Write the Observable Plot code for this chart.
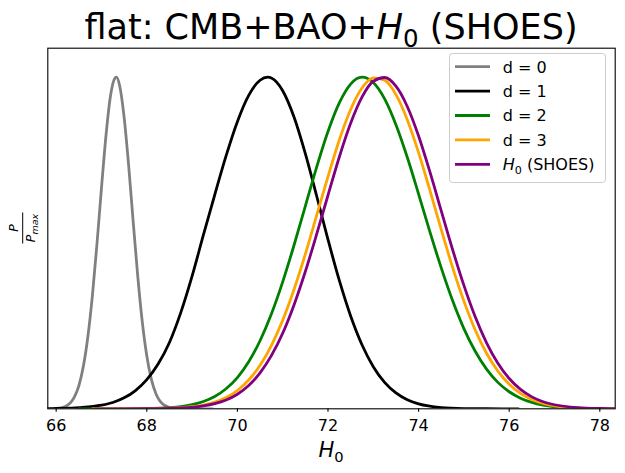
<!DOCTYPE html>
<html><head><meta charset="utf-8">
<script src="https://cdn.jsdelivr.net/npm/d3@7"></script>
<script src="https://cdn.jsdelivr.net/npm/@observablehq/plot@0.6"></script>
<style>body{margin:0;background:#fff} svg{display:block}</style>
</head><body><div id="chart"></div>
<script>
// ---- data ----
const seriesLabels = ["d = 0", "d = 1", "d = 2", "d = 3", "H0 (SHOES)"];
const seriesColors = ["gray", "black", "green", "orange", "purple"];
const xTicks = [66, 68, 70, 72, 74, 76, 78];

const d0_H0 = [65.8,66.0,66.2,66.4,66.5,66.6,66.7,66.8,66.9,67.0,67.1,67.2,67.3,67.33,67.4,67.5,67.6,67.7,67.8,67.9,68.0,68.1,68.2,68.4,68.6,68.8,69.0,69.45];
const d0_P  = [0.0001,0.001,0.0069,0.035,0.069,0.128,0.218,0.342,0.497,0.666,0.825,0.945,0.998,1.0,0.975,0.879,0.733,0.564,0.401,0.263,0.160,0.0895,0.0463,0.0098,0.0015,0.0002,0,0];

const d1_H0 = [65.8,66.0,66.5,67.0,67.25,67.5,67.75,68.0,68.25,68.5,68.75,69.0,69.25,69.5,69.75,70.0,70.25,70.5,70.67,70.75,71.0,71.25,71.5,71.75,72.0,72.25,72.5,72.75,73.0,73.25,73.5,73.75,74.0,74.5,75.0,75.5,76.2];
const d1_P  = [0,0.0009,0.0038,0.011,0.019,0.033,0.055,0.088,0.135,0.200,0.290,0.400,0.5244,0.6453,0.7627,0.8660,0.9452,0.9908,1.0,0.9976,0.9594,0.8800,0.7696,0.6418,0.5104,0.3870,0.2800,0.1932,0.1271,0.0796,0.0477,0.0272,0.0148,0.0038,0.0008,0.0001,0];

const d2_H0 = [66.5,67.0,67.5,68.0,68.5,68.75,69.0,69.25,69.5,69.75,70.0,70.25,70.5,70.75,71.0,71.25,71.5,71.75,72.0,72.25,72.5,72.75,73.0,73.25,73.5,73.75,74.0,74.25,74.5,74.75,75.0,75.25,75.5,75.75,76.0,76.25,76.5,76.75,77.0,77.5,78.0];
const d2_P  = [0,0,0.0002,0.0009,0.0036,0.0068,0.0125,0.0220,0.0371,0.0604,0.0943,0.1419,0.2052,0.2857,0.3828,0.4932,0.6114,0.7290,0.8362,0.9224,0.9792,1.0,0.9838,0.9345,0.8567,0.7585,0.6475,0.5335,0.4251,0.3266,0.2420,0.1734,0.1197,0.0797,0.0514,0.0320,0.0192,0.0111,0.0062,0.0017,0.0004];

const d3_H0 = [66.8,67.0,67.5,68.0,68.5,68.75,69.0,69.25,69.5,69.75,70.0,70.25,70.5,70.75,71.0,71.25,71.5,71.75,72.0,72.25,72.5,72.75,73.0,73.25,73.5,73.75,74.0,74.25,74.5,74.75,75.0,75.25,75.5,75.75,76.0,76.25,76.5,76.75,77.0,77.5,78.0,78.34];
const d3_P  = [0,0,0.0001,0.0004,0.0017,0.0033,0.0062,0.0114,0.0200,0.0339,0.0552,0.0867,0.1312,0.1908,0.2671,0.3598,0.4667,0.5834,0.7005,0.8106,0.9025,0.9673,0.998,0.9912,0.9476,0.8720,0.7725,0.6587,0.5405,0.4265,0.3247,0.2376,0.1674,0.1136,0.0742,0.0466,0.0282,0.0164,0.0092,0.0026,0.0006,0.0002];

const sh_H0 = [66.87,67.0,67.5,68.0,68.5,68.75,69.0,69.25,69.5,69.75,70.0,70.25,70.5,70.75,71.0,71.25,71.5,71.75,72.0,72.25,72.5,72.75,73.0,73.25,73.5,73.75,74.0,74.25,74.5,74.75,75.0,75.25,75.5,75.75,76.0,76.25,76.5,76.75,77.0,77.5,78.0,78.34];
const sh_P  = [0,0,0.00005,0.0003,0.0012,0.0024,0.0046,0.0086,0.0153,0.0264,0.0439,0.0701,0.1082,0.1602,0.2278,0.3133,0.4140,0.5265,0.6440,0.7595,0.8611,0.9400,0.9879,0.9992,0.9730,0.9118,0.8227,0.7143,0.5970,0.4804,0.3721,0.2774,0.1990,0.1374,0.0913,0.0584,0.0360,0.0214,0.0122,0.0035,0.0009,0.0003];

const allX = [d0_H0, d1_H0, d2_H0, d3_H0, sh_H0];
const allY = [d0_P, d1_P, d2_P, d3_P, sh_P];

// ---- build ----
const W = 625, H = 473, mL = 47.3, mR = 10.3, mT = 47.7, mB = 64.7;
const series = seriesLabels.map((label, i) => ({
  label, color: seriesColors[i],
  rows: allX[i].map((x, j) => ({H0: x, P: allY[i][j]}))
}));

const chart = Plot.plot({
  width: W, height: H,
  marginLeft: mL, marginRight: mR, marginTop: mT, marginBottom: mB,
  style: {fontFamily: "DejaVu Sans", fontSize: "16px", background: "white", color: "black"},
  x: {domain: [65.815, 78.34], axis: null},
  y: {domain: [0, 1.0875], axis: null},
  marks: [
    ...series.map(s => Plot.line(s.rows, {x: "H0", y: "P", stroke: s.color, strokeWidth: 2.8, curve: "monotone-x", clip: true})),
    Plot.axisX({ticks: xTicks, tickSize: 3.5, tickPadding: 7, label: null, tickFormat: d => String(d), strokeWidth: 1.1}),
    Plot.frame({stroke: "black", strokeWidth: 1.1})
  ]
});
document.getElementById("chart").appendChild(chart);

const svg = d3.select(chart);
const cx = mL + (W - mL - mR) / 2;

// math-like label helper: italic H with subscript 0
function addH0(textSel, size, shift) {
  textSel.append("tspan").attr("font-style", "italic").text("H");
  textSel.append("tspan").attr("font-size", size * 0.7).attr("dy", shift).text("0");
}

// title
const title = svg.append("text").attr("x", cx).attr("y", 39)
  .attr("text-anchor", "middle").attr("font-size", 35).attr("fill", "black");
title.append("tspan").text("flat: CMB+BAO+");
addH0(title, 35, 7.5);
title.append("tspan").attr("dy", -7.5).text(" (SHOES)");

// x label
const xl = svg.append("text").attr("x", cx).attr("y", 457)
  .attr("text-anchor", "middle").attr("font-size", 21).attr("fill", "black");
addH0(xl, 21, 4.5);

// y label: P / P_max (rotated)
const yl = svg.append("g").attr("transform", `translate(22.7,${mT + (H - mT - mB) / 2}) rotate(-90)`);
yl.append("text").attr("x", 0).attr("y", -4.5).attr("text-anchor", "middle")
  .attr("font-size", 12.5).attr("font-style", "italic").attr("fill", "black").text("P");
yl.append("line").attr("x1", -15.5).attr("x2", 15.5).attr("y1", 0).attr("y2", 0)
  .attr("stroke", "black").attr("stroke-width", 1);
const den = yl.append("text").attr("x", 0).attr("y", 12.5).attr("text-anchor", "middle")
  .attr("font-size", 12.5).attr("font-style", "italic").attr("fill", "black");
den.append("tspan").text("P");
den.append("tspan").attr("font-size", 9.5).attr("dy", 2.5).text("max");

// legend
const lg = svg.append("g").attr("text-anchor", "start");
lg.append("rect").attr("x", 449.5).attr("y", 53.5).attr("width", 156).attr("height", 129)
  .attr("rx", 3).attr("fill", "white").attr("fill-opacity", 0.8).attr("stroke", "#cccccc").attr("stroke-width", 1);
const rowY = [66.7, 91.1, 115.5, 139.9, 164.3];
series.forEach((s, i) => {
  lg.append("line").attr("x1", 455).attr("x2", 490).attr("y1", rowY[i]).attr("y2", rowY[i])
    .attr("stroke", s.color).attr("stroke-width", 2.8);
  const t = lg.append("text").attr("x", 502.7).attr("y", rowY[i] + 5.8)
    .attr("text-anchor", "start").attr("font-size", 16).attr("fill", "black");
  if (s.label.startsWith("H0")) {
    addH0(t, 16, 3.5);
    t.append("tspan").attr("dy", -3.5).text(s.label.slice(2));
  } else {
    t.text(s.label);
  }
});
</script>
</body></html>
